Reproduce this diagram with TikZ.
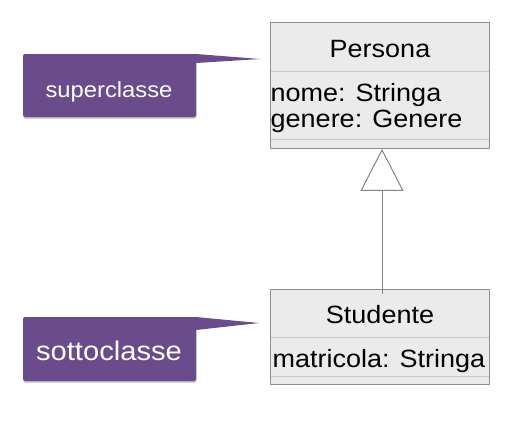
\documentclass[tikz,border=0pt]{standalone}
\usepackage{fontspec}
\setmainfont[FakeStretch=1.08]{Liberation Sans}
\usetikzlibrary{arrows.meta}
\definecolor{boxfill}{HTML}{EBEBEB}
\definecolor{boxline}{HTML}{8E8E8E}
\definecolor{sepline}{HTML}{C8C8C8}
\definecolor{callpurple}{HTML}{6A4B8B}
\definecolor{arrowgray}{HTML}{858585}
\tikzset{
  umlbox/.style={draw=boxline, fill=boxfill, line width=0.9pt, rectangle, inner sep=0pt, anchor=north west},
  septext/.style={draw=sepline, line width=0.9pt},
  umltext/.style={inner sep=0pt, font=\fontsize{25}{28}\selectfont, text=black},
  calltext/.style={inner sep=0pt, text=white, anchor=base},
  callout/.style={fill=callpurple},
  callshadow/.style={fill=black, opacity=0.25},
}
\begin{document}
\begin{tikzpicture}[x=1pt,y=-1pt]
\useasboundingbox (0,0) rectangle (526,420);
% Persona
\node[umlbox, minimum width=219pt, minimum height=126pt] (per) at (270,22) {};
\draw[septext] (270.5,71) coordinate (ps1) -- (488.5,71) coordinate (ps1e);
\draw[septext] (270.5,139) coordinate (ps2) -- (488.5,139) coordinate (ps2e);
\node[umltext, anchor=base] (pername) at (380,57) {Persona};
\node[umltext, anchor=base west] (perattr1) at (270.5,101) {nome: Stringa};
\node[umltext, anchor=base west] (perattr2) at (270.5,127) {genere: Genere};
% Studente
\node[umlbox, minimum width=219pt, minimum height=95pt] (stu) at (270,289) {};
\draw[septext] (270.5,337) coordinate (ss1) -- (488.5,337) coordinate (ss1e);
\draw[septext] (270.5,376) coordinate (ss2) -- (488.5,376) coordinate (ss2e);
\node[umltext, anchor=base] (stuname) at (380,323) {Studente};
\node[umltext, anchor=base west] (stuattr1) at (272.5,367) {matricola: Stringa};
% generalization
\coordinate (genstart) at ([yshift=-5pt]stu.north -| 382,0);
\coordinate (genend) at (per.south -| 382,0);
\draw[arrowgray, line width=1pt, -{Triangle[open, fill=white, length=42pt, width=43pt]}] (genstart) -- (genend);
% callout superclasse
\fill[callshadow, rounded corners=2pt] (23.5,55.5) rectangle (196.5,118.5);
\fill[callout, rounded corners=2pt] (23,54) rectangle (196,117);
\fill[callout] (190,54) -- (196,54) -- (260,59) -- (196,63) -- (190,63) -- cycle;
\node[calltext, font=\fontsize{22}{24}\selectfont] (sup) at (109,97) {superclasse};
% callout sottoclasse
\fill[callshadow, rounded corners=2pt] (23.5,318.5) rectangle (196.5,382.5);
\fill[callout, rounded corners=2pt] (23,317) rectangle (196,381);
\fill[callout] (190,317) -- (196,317) -- (259,323) -- (196,330) -- (190,330) -- cycle;
\node[calltext, font=\fontsize{27}{30}\selectfont] (sub) at (109,360) {sottoclasse};
\end{tikzpicture}
\end{document}
